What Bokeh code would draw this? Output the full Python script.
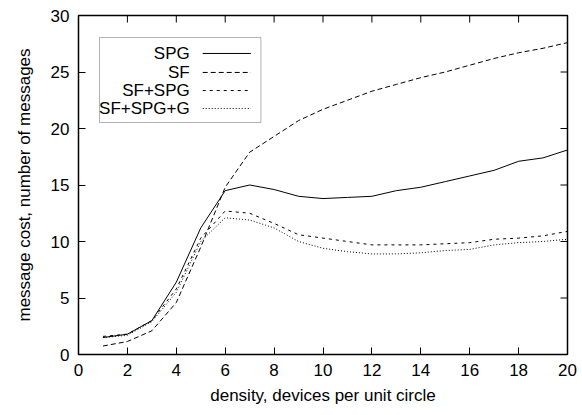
from bokeh.plotting import figure
from bokeh.models import FixedTicker, BoxAnnotation, Range1d
from bokeh.core.properties import value
from bokeh.embed import file_html
from bokeh.resources import INLINE

density = list(range(1, 21))
spg = [1.5, 1.8, 3.0, 6.4, 11.2, 14.5, 15.0, 14.6, 14.0, 13.8, 13.9, 14.0, 14.5, 14.8, 15.3, 15.8, 16.3, 17.1, 17.4, 18.1]
sf = [0.75, 1.15, 2.1, 4.6, 9.5, 14.8, 17.9, 19.3, 20.7, 21.7, 22.5, 23.3, 23.9, 24.5, 25.0, 25.6, 26.2, 26.7, 27.1, 27.6]
sf_spg = [1.6, 1.8, 3.0, 5.8, 10.3, 12.7, 12.5, 11.6, 10.6, 10.3, 10.0, 9.7, 9.7, 9.7, 9.8, 9.9, 10.2, 10.3, 10.5, 10.9]
sf_spg_g = [1.5, 1.7, 2.9, 5.5, 10.0, 12.1, 11.9, 11.2, 10.0, 9.4, 9.1, 8.9, 8.9, 9.0, 9.2, 9.3, 9.7, 9.9, 10.0, 10.2]

series_names = ["SPG", "SF", "SF+SPG", "SF+SPG+G"]
series_values = [spg, sf, sf_spg, sf_spg_g]
series_dash = ["solid", "5 3", "3 4", "1 2"]

x_ticks = list(range(0, 21, 2))
y_ticks = list(range(0, 31, 5))
x_min, x_max, y_min, y_max = 0, 20, 0, 30

FONT = "Liberation Sans"
FS = "17px"

p = figure(width=579, height=413, output_backend="svg", toolbar_location=None,
           x_range=Range1d(x_min, x_max), y_range=Range1d(y_min, y_max),
           min_border_left=78, min_border_right=12, min_border_top=15, min_border_bottom=59,
           x_axis_label="density, devices per unit circle",
           y_axis_label="message cost, number of messages")
p.grid.visible = False
p.outline_line_color = "black"
p.outline_line_width = 1.5
p.background_fill_color = "white"
p.border_fill_color = "white"

for ax in p.xaxis:
    ax.ticker = FixedTicker(ticks=x_ticks)
for ax in p.yaxis:
    ax.ticker = FixedTicker(ticks=y_ticks)

for ax in list(p.xaxis) + list(p.yaxis):
    ax.major_tick_in = 7
    ax.major_tick_out = 0
    ax.minor_tick_in = 0
    ax.minor_tick_out = 0
    ax.major_tick_line_color = "black"
    ax.axis_line_color = None
    ax.major_label_text_font = FONT
    ax.major_label_text_font_size = FS
    ax.major_label_text_color = "black"
    ax.axis_label_text_font = FONT
    ax.axis_label_text_font_size = FS
    ax.axis_label_text_font_style = "normal"
    ax.axis_label_text_color = "black"
p.xaxis.major_label_standoff = 9
p.xaxis.axis_label_standoff = 7
p.yaxis.major_label_standoff = 9
p.yaxis.axis_label_standoff = 14

# mirrored inward ticks on the top and right edges (gnuplot style)
tick_len_y = 7 * (y_max - y_min) / 339.0
tick_len_x = 7 * (x_max - x_min) / 489.0
p.segment(x0=x_ticks, y0=[y_max] * len(x_ticks), x1=x_ticks, y1=[y_max - tick_len_y] * len(x_ticks),
          line_color="black", line_width=1)
p.segment(x0=[x_max] * len(y_ticks), y0=y_ticks, x1=[x_max - tick_len_x] * len(y_ticks), y1=y_ticks,
          line_color="black", line_width=1)

for vals, dash in zip(series_values, series_dash):
    p.line(density, vals, line_color="black", line_width=1, line_dash=dash)

# hand-drawn key (gnuplot style: label then sample), positioned in data space
key_left, key_right, key_top, key_bottom = 0.86, 7.46, 28.05, 20.53
key_text_x = 4.55
key_line_x0, key_line_x1 = 5.08, 7.05
key_rows = [26.64, 24.96, 23.36, 21.77]

p.add_layout(BoxAnnotation(left=key_left, right=key_right, top=key_top, bottom=key_bottom,
                           fill_alpha=0, line_color="black", line_width=1))
p.text(x=[key_text_x] * 4, y=key_rows, text=series_names, text_align="right",
       text_baseline="middle", text_font=value(FONT), text_font_size=value(FS),
       text_color="black")
for yy, dash in zip(key_rows, series_dash):
    p.line([key_line_x0, key_line_x1], [yy, yy], line_color="black", line_width=1, line_dash=dash)

open("out.html", "w").write(file_html(p, INLINE))
